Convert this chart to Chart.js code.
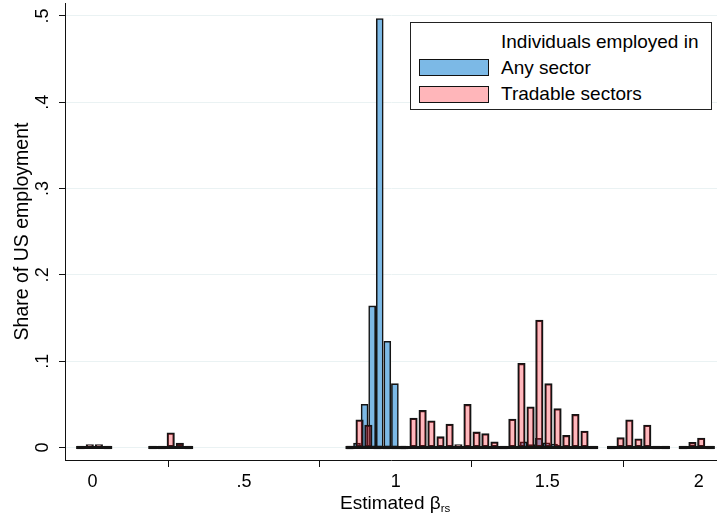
<!DOCTYPE html>
<html>
<head>
<meta charset="utf-8">
<script src="https://cdn.jsdelivr.net/npm/chart.js@4.4.1/dist/chart.umd.min.js"></script>
<style>
  html, body { margin: 0; padding: 0; background: #fff; }
  #wrap { position: relative; width: 717px; height: 517px; font-family: "Liberation Sans", Arial, sans-serif; color: #000; }
  #chart { position: absolute; left: 0; top: 0; }
  #legend { position: absolute; left: 410px; top: 22px; width: 302px; height: 88px; box-sizing: border-box;
            border: 1px solid #222; background: #fff; font-size: 19px; }
  #legend .t { position: absolute; left: 90px; white-space: nowrap; line-height: 20px; }
  #legend .sw { position: absolute; left: 8px; width: 70px; height: 17px; box-sizing: border-box; border: 1.6px solid #111; }
  #xtitle { position: absolute; left: 340px; top: 493px; font-size: 19px; line-height: 20px; white-space: nowrap; }
  #xtitle sub { font-size: 11.5px; vertical-align: -3px; }
</style>
</head>
<body>
<div id="wrap">
  <canvas id="chart" width="717" height="517"></canvas>
  <div id="legend"></div>
  <div id="xtitle">Estimated β<sub>rs</sub></div>
</div>
<script>
// ---- data ----
const legendTitle = "Individuals employed in";
const seriesNames = ["Any sector", "Tradable sectors"];

// "Any sector" bins (bin centres) and shares
const anyBinWidth = 0.025;
const anyX = [0.8475, 0.8725, 0.8975, 0.9225, 0.9475, 0.9725, 0.9975, 1.0225, 1.4225, 1.4475, 1.4725, 1.4975, 1.5225];
const anyY = [0, 0.005, 0.050, 0.164, 0.497, 0.123, 0.074, 0, 0.0065, 0.002, 0.0105, 0.0055, 0.004];

// "Tradable sectors" bins (bin centres) and shares
const tradBinWidth = 0.0297;
const tradX = [-0.039, -0.009, 0.021, 0.050, 0.199, 0.228, 0.258, 0.288, 0.317,
               0.851, 0.881, 0.910, 0.940, 0.970, 0.999, 1.029, 1.059, 1.089, 1.118, 1.148,
               1.178, 1.207, 1.237, 1.267, 1.296, 1.326, 1.356, 1.385, 1.415, 1.445,
               1.474, 1.504, 1.534, 1.563, 1.593, 1.623, 1.653, 1.712, 1.742, 1.771,
               1.801, 1.830, 1.860, 1.890, 1.949, 1.979, 2.008, 2.038];
const tradY = [0, 0.0025, 0.0025, 0, 0, 0, 0.017, 0.005, 0,
               0, 0.032, 0.026, 0, 0, 0, 0, 0.034, 0.043, 0.031, 0.0125,
               0.027, 0.002, 0.050, 0.018, 0.016, 0.0065, 0, 0.033, 0.0975, 0.047,
               0.1476, 0.074, 0.045, 0.014, 0.0385, 0.019, 0, 0, 0.0116, 0.032,
               0.010, 0.026, 0, 0, 0, 0.006, 0.011, 0];

const xTicks = [0, 0.5, 1, 1.5, 2];
const xTickLabels = ["0", ".5", "1", "1.5", "2"];
const yTicks = [0, 0.1, 0.2, 0.3, 0.4, 0.5];
const yTickLabels = ["0", ".1", ".2", ".3", ".4", ".5"];
const yTitle = "Share of US employment";

// ---- styles ----
const blueFill = "rgb(124,185,230)";
const pinkFill = "rgba(255,20,35,0.30)";
const pinkSolid = "rgb(255,182,186)";
const edge = "#141414";

Chart.defaults.font.family = "'Liberation Sans', Arial, sans-serif";
Chart.defaults.font.size = 18;
Chart.defaults.color = "#000";

const pts = (xs, ys) => xs.map((x, i) => ({ x: x, y: ys[i] }));

// baseline outline of the bins (zero-height bar outlines form a continuous thick line)
function baselineRuns() {
  const iv = [];
  anyX.forEach(x => iv.push([x - anyBinWidth / 2, x + anyBinWidth / 2]));
  tradX.forEach(x => iv.push([x - tradBinWidth / 2, x + tradBinWidth / 2]));
  iv.sort((a, b) => a[0] - b[0]);
  const runs = [];
  iv.forEach(r => {
    const last = runs[runs.length - 1];
    if (last && r[0] <= last[1] + 0.004) last[1] = Math.max(last[1], r[1]);
    else runs.push([r[0], r[1]]);
  });
  const out = [];
  runs.forEach((r, i) => {
    out.push({ x: r[0], y: 0 }, { x: r[1], y: 0 });
    if (i < runs.length - 1) out.push({ x: (r[1] + runs[i + 1][0]) / 2, y: null });
  });
  return out;
}

const dropPadding = s => { s.paddingTop = 0; s.paddingBottom = 0; s.paddingLeft = 0; s.paddingRight = 0; };

const chart = new Chart(document.getElementById("chart"), {
  type: "bar",
  data: {
    datasets: [
      { label: seriesNames[0], data: pts(anyX, anyY), backgroundColor: blueFill, borderColor: edge,
        borderWidth: 1.6, borderSkipped: false, barThickness: 7, minBarLength: 3, order: 1 },
      { label: seriesNames[1], data: pts(tradX, tradY), backgroundColor: pinkFill, borderColor: edge,
        borderWidth: 1.6, borderSkipped: false, barThickness: 7.5, minBarLength: 3, order: 0 },
      { type: "line", label: "baseline", data: baselineRuns(), borderColor: edge, borderWidth: 3,
        pointRadius: 0, spanGaps: false, borderCapStyle: "butt", order: -1 }
    ]
  },
  options: {
    responsive: false,
    animation: false,
    devicePixelRatio: 1,
    grouped: false,
    layout: { padding: { top: 3, right: 0, left: 0, bottom: 0 } },
    plugins: { legend: { display: false }, tooltip: { enabled: false } },
    scales: {
      x: {
        type: "linear", offset: false, min: -0.0907, max: 2.06,
        afterFit: s => { s.height = 57; dropPadding(s); },
        afterBuildTicks: s => { s.ticks = xTicks.map(v => ({ value: v })); },
        ticks: { callback: (v) => xTickLabels[xTicks.indexOf(v)], padding: 4, maxRotation: 0, autoSkip: false },
        grid: { drawOnChartArea: false, drawTicks: true, tickLength: 7, tickColor: "#111", tickWidth: 1 },
        border: { display: true, color: "#111", width: 1 }
      },
      y: {
        type: "linear", min: -0.0145, max: 0.515,
        afterFit: s => { s.width = 65; dropPadding(s); },
        afterBuildTicks: s => { s.ticks = yTicks.map(v => ({ value: v })); },
        ticks: { callback: (v) => yTickLabels[yTicks.indexOf(v)], padding: 8, minRotation: 90, maxRotation: 90,
                 crossAlign: "center", autoSkip: false },
        grid: { color: "rgb(234,242,243)", lineWidth: 1, drawTicks: true, tickLength: 6, tickColor: "#111" },
        border: { display: true, color: "#111", width: 1 },
        title: { display: true, text: yTitle, font: { size: 19.5 }, padding: { top: 11, bottom: 0 } }
      }
    }
  }
});

// ---- legend (HTML) ----
const lg = document.getElementById("legend");
const title = document.createElement("div");
title.className = "t"; title.style.top = "9px"; title.textContent = legendTitle;
lg.appendChild(title);
const swatches = [blueFill, pinkSolid];
seriesNames.forEach((name, i) => {
  const sw = document.createElement("div");
  sw.className = "sw"; sw.style.top = (36 + i * 27) + "px"; sw.style.background = swatches[i];
  lg.appendChild(sw);
  const t = document.createElement("div");
  t.className = "t"; t.style.top = (35 + i * 26) + "px"; t.textContent = name;
  lg.appendChild(t);
});
</script>
</body>
</html>
